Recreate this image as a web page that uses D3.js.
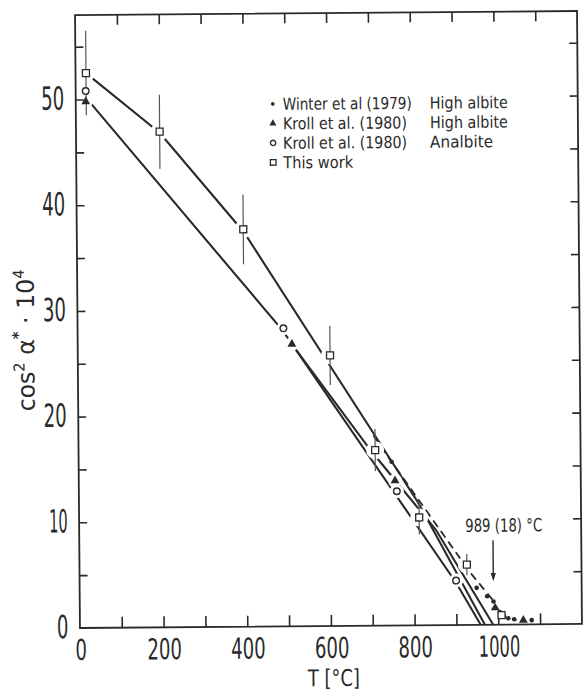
<!DOCTYPE html>
<html>
<head>
<meta charset="utf-8">
<script src="https://cdn.jsdelivr.net/npm/d3@7"></script>
<style>
  body { margin: 0; background: #fff; }
  svg { display: block; }
  text { font-family: "DejaVu Sans Condensed", "Liberation Sans Narrow", "DejaVu Sans", sans-serif; fill: #2a2a2a; }
</style>
</head>
<body>
<div id="chart"></div>
<script>
// This work (squares with error bars)
const thisWorkT   = [25, 200, 398, 603, 709, 813, 926, 1008];
const thisWorkV   = [52.5, 46.9, 37.6, 25.6, 16.6, 10.2, 5.7, 0.9];
const thisWorkErr = [4.0, 3.5, 3.3, 2.8, 2.0, 1.6, 1.0, 0];

// Kroll et al. (1980) analbite (open circles)
const krollAnT = [24, 492, 760, 900];
const krollAnV = [50.8, 28.2, 12.7, 4.2];

// Kroll et al. (1980) high albite (triangles)
const krollHaT = [24, 512, 756, 993, 1060];
const krollHaV = [49.8, 26.7, 13.7, 1.6, 0.4];

// Winter et al (1979) high albite (dots)
const winterT = [748, 949, 974, 989, 1004, 1014, 1024, 1038, 1080];
const winterV = [15.5, 3.5, 2.7, 2.2, 1.2, 0.8, 0.6, 0.5, 0.4];

// drawn curves
const fitThisT = [25, 200, 400, 811, 968];
const fitThisV = [52.5, 46.8, 37.3, 11.6, 0];
const fitAnT = [24, 490, 900, 958];
const fitAnV = [50.2, 28.0, 4.0, 0];
const fitHaT = [512, 700, 853, 988];
const fitHaV = [26.7, 16.5, 9.0, 0];
const fitWinterT = [705, 748, 933, 988, 1020, 1050];
const fitWinterV = [18.0, 15.5, 5.0, 2.3, 0.7, 0.35];

// axes
const xTickLabels = [0, 200, 400, 600, 800, 1000];
const yTickLabels = [0, 10, 20, 30, 40, 50];

// transition mark
const transT = 989;
const transLabel = "989 (18) °C";

// legend
const legendNames = ["Winter et al (1979)", "Kroll et al. (1980)", "Kroll et al. (1980)", "This work"];
const legendPhases = ["High albite", "High albite", "Analbite", ""];
const legendKinds = ["dot", "triangle", "circle", "square"];

const W = 583, H = 690;
const frame = {left: 77.5, right: 579.5, top: 13, bottom: 626};
const ink = "#2a2a2a";

const svg = d3.select("#chart").append("svg")
  .attr("width", W).attr("height", H);

// the scan is a touch skewed
const g = svg.append("g").attr("transform", "rotate(-0.46,328.5,320.5)");

const x = d3.scaleLinear().domain([0, 1200]).range([frame.left, frame.right]);
const y = d3.scaleLinear().domain([0, 58]).range([frame.bottom, frame.top]);

const line = d3.line().x(d => x(d[0])).y(d => y(d[1]));
const zip = (a, b) => a.map((v, i) => [v, b[i]]);

// width of a digit string in the condensed figure font
function digitWidth(s) {
  let w = 0;
  for (const c of String(s)) w += (c === "1") ? 7 : 11.5;
  return w;
}

// curves
[[fitThisT, fitThisV], [fitAnT, fitAnV], [fitHaT, fitHaV]].forEach(([t, v]) => {
  g.append("path")
    .attr("d", line(zip(t, v)))
    .attr("fill", "none")
    .attr("stroke", ink)
    .attr("stroke-width", 2.1);
});
g.append("path")
  .attr("d", line(zip(fitWinterT, fitWinterV)))
  .attr("fill", "none")
  .attr("stroke", ink)
  .attr("stroke-width", 1.8)
  .attr("stroke-dasharray", "8,5");

// white gaps round the markers
g.append("g").selectAll("circle").data(zip(thisWorkT, thisWorkV)).join("circle")
  .attr("cx", d => x(d[0])).attr("cy", d => y(d[1]))
  .attr("r", 9).attr("fill", "#fff");
g.append("g").selectAll("circle").data(zip(krollAnT, krollAnV).concat(zip(krollHaT, krollHaV))).join("circle")
  .attr("cx", d => x(d[0])).attr("cy", d => y(d[1]))
  .attr("r", 7).attr("fill", "#fff");

// frame
g.append("rect")
  .attr("x", frame.left).attr("y", frame.top)
  .attr("width", frame.right - frame.left).attr("height", frame.bottom - frame.top)
  .attr("fill", "none").attr("stroke", ink).attr("stroke-width", 1.8);

// inward ticks on all four sides
const xt = d3.range(100, 1200, 100);
const yt = d3.range(5, 58, 5);
const axB = g.append("g").attr("transform", `translate(0,${frame.bottom})`)
  .call(d3.axisBottom(x).tickValues(xt).tickSize(-11).tickFormat(""));
const axT = g.append("g").attr("transform", `translate(0,${frame.top})`)
  .call(d3.axisTop(x).tickValues(xt).tickSize(-10).tickFormat(""));
const axL = g.append("g").attr("transform", `translate(${frame.left},0)`)
  .call(d3.axisLeft(y).tickValues(yt).tickSize(-8).tickFormat(""));
const axR = g.append("g").attr("transform", `translate(${frame.right},0)`)
  .call(d3.axisRight(y).tickValues(yt).tickSize(-8).tickFormat(""));
[axB, axT, axL, axR].forEach(a => {
  a.select(".domain").remove();
  a.selectAll(".tick line").attr("stroke", ink).attr("stroke-width", 1.6);
});

// tick labels
g.append("g").selectAll("text").data(xTickLabels).join("text")
  .attr("x", d => x(d) + 1).attr("y", 658)
  .attr("text-anchor", "middle")
  .attr("font-size", 29)
  .attr("textLength", d => digitWidth(d))
  .attr("lengthAdjust", "spacingAndGlyphs")
  .text(d => d);
g.append("g").selectAll("text").data(yTickLabels).join("text")
  .attr("x", 66).attr("y", d => y(d) + 10)
  .attr("text-anchor", "end")
  .attr("font-size", 32)
  .attr("textLength", d => digitWidth(d))
  .attr("lengthAdjust", "spacingAndGlyphs")
  .text(d => d);

// axis titles
g.append("text")
  .attr("x", 331).attr("y", 686)
  .attr("text-anchor", "middle")
  .attr("font-size", 23)
  .attr("textLength", 52)
  .attr("lengthAdjust", "spacingAndGlyphs")
  .text("T [°C]");

const yt2 = g.append("text")
  .attr("transform", "translate(34,338) rotate(-90)")
  .attr("text-anchor", "middle")
  .attr("font-size", 24)
  .attr("textLength", 142)
  .attr("lengthAdjust", "spacingAndGlyphs");
yt2.append("tspan").text("cos");
yt2.append("tspan").attr("font-size", 15).attr("dy", -10).text("2");
yt2.append("tspan").attr("dy", 10).text(" α");
yt2.append("tspan").attr("font-size", 15).attr("font-weight", "bold").attr("dy", -11).text("*");
yt2.append("tspan").attr("dy", 11).text(" · 10");
yt2.append("tspan").attr("font-size", 15).attr("dy", -10).text("4");

// error bars
g.append("g").selectAll("line").data(thisWorkT.map((t, i) => i).filter(i => thisWorkErr[i] > 0)).join("line")
  .attr("x1", i => x(thisWorkT[i])).attr("x2", i => x(thisWorkT[i]))
  .attr("y1", i => y(thisWorkV[i] + thisWorkErr[i]))
  .attr("y2", i => y(thisWorkV[i] - thisWorkErr[i]))
  .attr("stroke", "#555").attr("stroke-width", 1.2);

// markers
function marker(sel, kind, size) {
  if (kind === "dot") {
    sel.append("circle").attr("r", 2.3 * size).attr("fill", ink);
  } else if (kind === "circle") {
    sel.append("circle").attr("r", 3.3 * size).attr("fill", "#fff").attr("stroke", ink).attr("stroke-width", 1.4);
  } else if (kind === "triangle") {
    sel.append("path").attr("d", d3.symbol(d3.symbolTriangle, 34 * size * size)()).attr("fill", ink);
  } else {
    const s = 7 * size;
    sel.append("rect").attr("x", -s / 2).attr("y", -s / 2).attr("width", s).attr("height", s)
      .attr("fill", "#fff").attr("stroke", ink).attr("stroke-width", 1.3);
  }
}
function plotSeries(t, v, kind) {
  g.append("g").selectAll("g").data(zip(t, v)).join("g")
    .attr("transform", d => `translate(${x(d[0])},${y(d[1])})`)
    .each(function() { marker(d3.select(this), kind, 1); });
}
plotSeries(winterT, winterV, "dot");
plotSeries(krollHaT, krollHaV, "triangle");
plotSeries(krollAnT, krollAnV, "circle");
plotSeries(thisWorkT, thisWorkV, "square");

// transition arrow
const ax = x(transT);
g.append("line")
  .attr("x1", ax).attr("x2", ax).attr("y1", y(8.0)).attr("y2", y(4.8))
  .attr("stroke", ink).attr("stroke-width", 1.4);
g.append("path")
  .attr("d", `M${ax - 2.6},${y(4.9)} L${ax + 2.6},${y(4.9)} L${ax},${y(4.1)} Z`)
  .attr("fill", ink);
g.append("text")
  .attr("x", 463.5).attr("y", 533)
  .attr("font-size", 18)
  .attr("textLength", 77)
  .attr("lengthAdjust", "spacingAndGlyphs")
  .text(transLabel);

// legend
const nameW = [129, 124, 124, 70];
const phaseW = [78, 78, 63, 0];
const rowY = [109.5, 129, 148.5, 168];
legendNames.forEach((name, i) => {
  const row = g.append("g");
  marker(row.append("g").attr("transform", `translate(274.5,${rowY[i] - 6})`), legendKinds[i], 0.8);
  row.append("text")
    .attr("x", 284.5).attr("y", rowY[i])
    .attr("font-size", 16.5)
    .attr("textLength", nameW[i])
    .attr("lengthAdjust", "spacingAndGlyphs")
    .text(name);
  if (legendPhases[i]) {
    row.append("text")
      .attr("x", 431.5).attr("y", rowY[i])
      .attr("font-size", 16.5)
      .attr("textLength", phaseW[i])
      .attr("lengthAdjust", "spacingAndGlyphs")
      .text(legendPhases[i]);
  }
});
</script>
</body>
</html>
